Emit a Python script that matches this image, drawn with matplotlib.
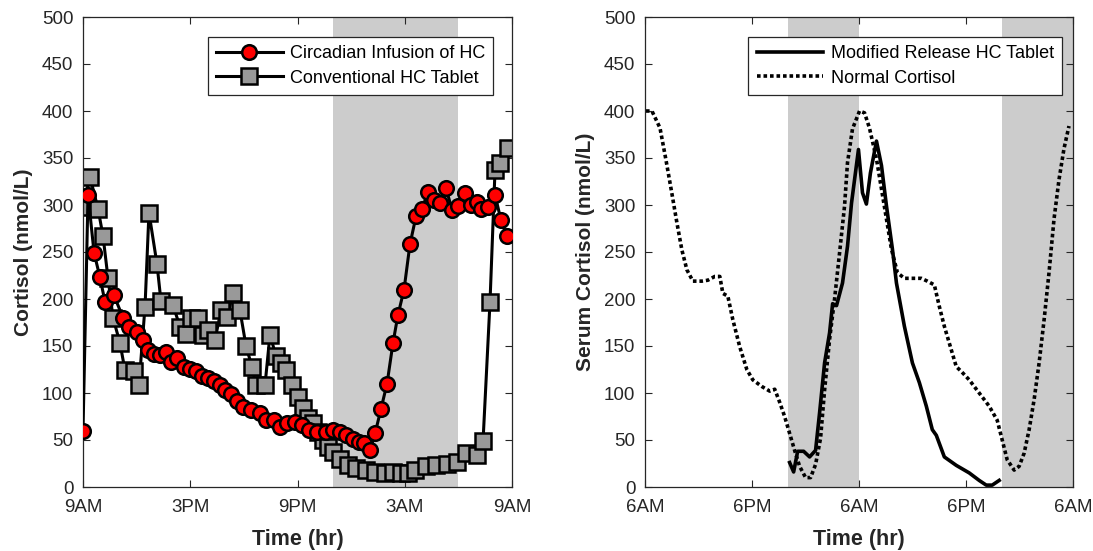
import matplotlib
matplotlib.use("Agg")
import matplotlib.pyplot as plt

plt.rcParams['font.family'] = ['Liberation Sans', 'DejaVu Sans']

# ---------------- Left panel data (clock hours, 9 = 9AM day 1) ----------------
infusion_t = [9.00, 9.28, 9.62, 9.95, 10.23, 10.73, 11.24, 11.57, 12.02, 12.36, 12.64, 12.97,
              13.31, 13.64, 13.92, 14.26, 14.65, 14.99, 15.32, 15.66, 15.99, 16.33, 16.66, 16.94,
              17.28, 17.62, 17.95, 18.40, 18.90, 19.24, 19.69, 20.02, 20.41, 20.86, 21.25, 21.64,
              22.09, 22.59, 22.99, 23.38, 23.71, 24.10, 24.43, 24.72, 25.06, 25.34, 25.67, 26.01,
              26.34, 26.62, 26.96, 27.29, 27.63, 27.97, 28.30, 28.64, 28.97, 29.31, 29.64, 29.98,
              30.37, 30.71, 31.04, 31.27, 31.66, 32.05, 32.38, 32.72]
infusion_v = [60, 311, 249, 223, 197, 204, 180, 170, 165, 156, 146, 142,
              140, 144, 133, 137, 128, 126, 123, 118, 116, 113, 108, 103,
              99, 92, 85, 82, 79, 71, 71, 64, 68, 69, 66, 61,
              59, 59, 61, 59, 55, 51, 48, 47, 39, 57, 83, 110,
              153, 183, 210, 258, 288, 296, 314, 305, 302, 318, 295, 299,
              313, 300, 303, 296, 298, 311, 284, 267]

tablet_t = [9.00, 9.39, 9.84, 10.12, 10.40, 10.68, 11.07, 11.35, 11.85, 12.13, 12.47, 12.69,
            13.14, 13.36, 14.03, 14.43, 14.76, 15.04, 15.43, 15.71, 15.99, 16.38, 16.72, 17.06,
            17.39, 17.78, 18.12, 18.45, 18.68, 19.18, 19.46, 19.80, 20.08, 20.36, 20.69, 21.03,
            21.31, 21.59, 21.87, 22.15, 22.43, 22.71, 22.99, 23.38, 23.83, 24.27, 24.83, 25.34,
            25.90, 26.34, 26.79, 27.18, 27.57, 28.19, 28.75, 29.36, 29.92, 30.43, 31.04, 31.38,
            31.77, 32.05, 32.33, 32.78]
tablet_v = [298, 330, 296, 267, 222, 180, 153, 124, 123, 108, 192, 292,
            237, 198, 194, 170, 163, 180, 180, 162, 167, 156, 188, 181,
            206, 188, 150, 128, 108, 108, 162, 139, 132, 124, 109, 96,
            84, 73, 68, 59, 50, 43, 37, 30, 23, 20, 18, 16,
            15, 16, 15, 15, 18, 22, 23, 25, 27, 36, 34, 49,
            197, 337, 345, 361]

left_ticks = [9, 15, 21, 27, 33]
left_ticklabels = ['9AM', '3PM', '9PM', '3AM', '9AM']
left_night = [23, 30]

# ---------------- Right panel data (clock hours, 6 = 6AM day 1) ----------------
normal_t = [6.11, 6.78, 7.68, 8.35, 9.02, 9.58, 10.14, 10.70, 11.37, 12.38, 13.05, 13.83,
            14.39, 14.73, 15.29, 15.85, 16.63, 17.42, 18.09, 19.09, 19.99, 20.55, 21.11, 21.66,
            22.22, 22.78, 23.34, 24.01, 24.57, 25.13, 25.69, 26.14, 26.70, 27.26, 27.82, 28.38,
            28.71, 29.27, 30.06, 30.62, 31.17, 31.96, 32.52, 33.08, 33.64, 34.31, 35.09, 35.99,
            36.99, 37.66, 38.45, 39.01, 39.57, 40.13, 40.91, 41.47, 42.36, 43.48, 44.60, 45.50,
            46.06, 46.62, 47.40, 47.96, 48.52, 49.08, 49.64, 50.20, 50.76, 51.31, 51.87, 52.43,
            52.99, 53.55]
normal_v = [400, 400, 382, 348, 312, 281, 252, 231, 219, 219, 220, 224,
            224, 206, 203, 178, 149, 125, 114, 107, 102, 104, 90, 75,
            57, 39, 22, 10, 10, 24, 52, 103, 157, 200, 249, 299,
            345, 381, 400, 398, 382, 349, 317, 285, 253, 228, 222, 222,
            222, 219, 215, 192, 171, 153, 128, 123, 114, 100, 86, 71,
            50, 29, 18, 22, 36, 61, 93, 132, 178, 228, 285, 327,
            360, 384]

modified_t = [22.22, 22.67, 23.12, 23.79, 24.46, 25.13, 25.58, 26.14, 26.70, 27.04, 27.48, 28.15,
              28.71, 29.16, 29.94, 30.39, 30.83, 31.28, 31.96, 32.52, 33.08, 33.75, 34.20, 35.09,
              35.99, 36.77, 37.55, 38.22, 38.67, 39.57, 40.91, 42.36, 43.48, 44.27, 44.94, 45.72]
modified_v = [26, 16, 38, 38, 32, 39, 79, 132, 164, 195, 193, 217,
              256, 302, 359, 313, 301, 334, 368, 342, 299, 253, 217, 171,
              132, 111, 86, 61, 55, 32, 23, 15, 7, 2, 2, 7]

right_ticks = [6, 18, 30, 42, 54]
right_ticklabels = ['6AM', '6PM', '6AM', '6PM', '6AM']
right_nights = [[22, 30], [46, 54]]

y_ticks = list(range(0, 501, 50))

# ---------------- Figure ----------------
W, H = 1093, 551
fig = plt.figure(figsize=(W / 100, H / 100), dpi=100)
ax1 = fig.add_axes([83 / W, 64 / H, 429 / W, 470 / H])
ax2 = fig.add_axes([645 / W, 64 / H, 428 / W, 470 / H])

txt = '#262626'
shade = '#cccccc'


def style(ax):
    ax.set_ylim(0, 500)
    ax.set_yticks(y_ticks)
    ax.tick_params(direction='in', length=5, width=0.8, colors=txt, labelsize=13.5,
                   top=True, right=True)
    ax.tick_params(axis='x', pad=9)
    ax.tick_params(axis='y', pad=7)
    for s in ax.spines.values():
        s.set_color(txt)
        s.set_linewidth(0.9)


def add_legend(ax, anchor):
    leg = ax.legend(loc='upper right', bbox_to_anchor=anchor, fontsize=13,
                    handlelength=3.7, frameon=True, fancybox=False, edgecolor=txt,
                    framealpha=1, borderaxespad=0, borderpad=0.45, labelspacing=0.4,
                    handletextpad=0.4)
    leg.get_frame().set_linewidth(0.9)
    return leg


# Left panel
ax1.axvspan(left_night[0], left_night[1], color=shade, lw=0, zorder=0)
ax1.plot(infusion_t, infusion_v, color='black', lw=2.2, marker='o', ms=10.5,
         mfc='#ff0000', mec='black', mew=1.8, zorder=3, label='Circadian Infusion of HC')
ax1.plot(tablet_t, tablet_v, color='black', lw=2.2, marker='s', ms=11,
         mfc='#999999', mec='black', mew=1.8, zorder=2, label='Conventional HC Tablet')
ax1.set_xlim(9, 33)
ax1.set_xticks(left_ticks)
ax1.set_xticklabels(left_ticklabels)
style(ax1)
ax1.set_xlabel('Time (hr)', fontsize=15.5, fontweight='bold', color=txt, labelpad=9)
ax1.set_ylabel('Cortisol (nmol/L)', fontsize=15, fontweight='bold', color=txt, labelpad=6)
add_legend(ax1, (0.956, 0.957))

# Right panel
for a, b in right_nights:
    ax2.axvspan(a, b, color=shade, lw=0, zorder=0)
ax2.plot(modified_t, modified_v, color='black', lw=2.6, linestyle='-', zorder=3,
         label='Modified Release HC Tablet')
ax2.plot(normal_t, normal_v, color='black', lw=2.6, linestyle=(0, (1, 0.8)), zorder=2,
         label='Normal Cortisol')
ax2.set_xlim(6, 54)
ax2.set_xticks(right_ticks)
ax2.set_xticklabels(right_ticklabels)
style(ax2)
ax2.set_xlabel('Time (hr)', fontsize=15.5, fontweight='bold', color=txt, labelpad=9)
ax2.set_ylabel('Serum Cortisol (nmol/L)', fontsize=15, fontweight='bold', color=txt, labelpad=6)
add_legend(ax2, (0.974, 0.957))

fig.savefig('out.png', dpi=100, facecolor='white')
